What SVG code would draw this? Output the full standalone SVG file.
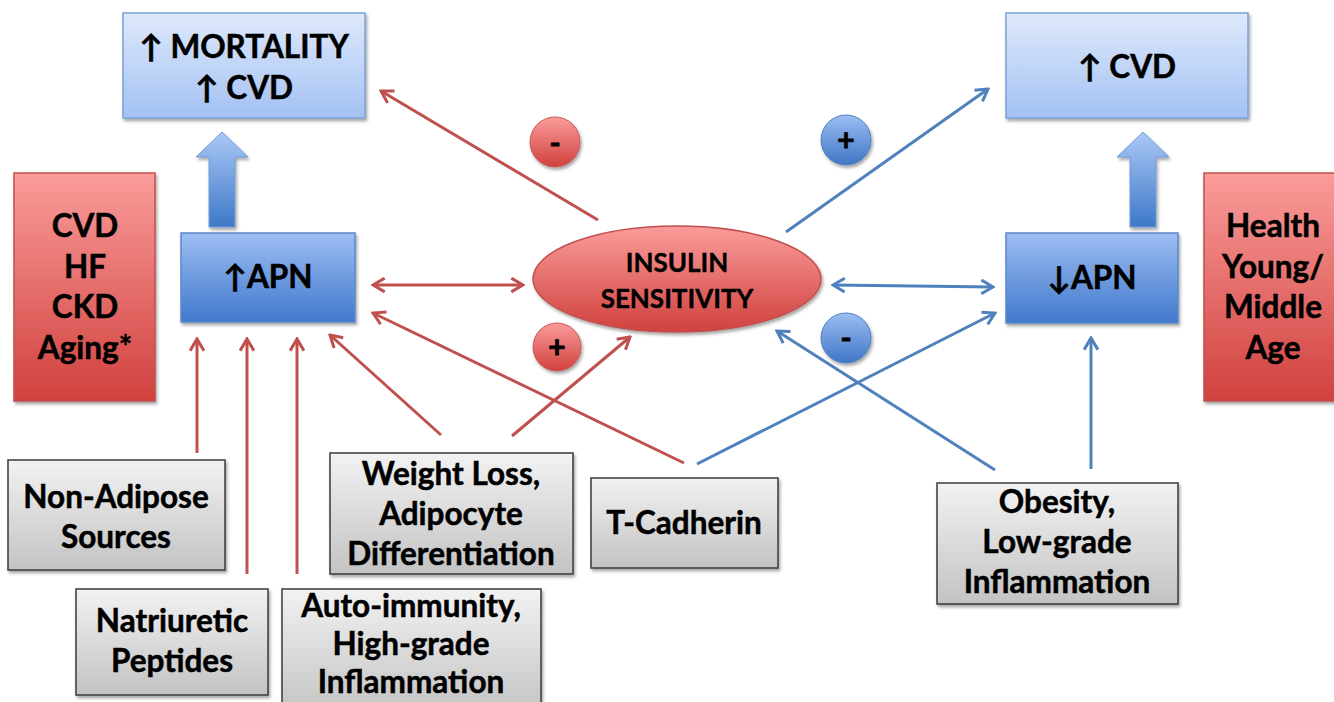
<svg xmlns="http://www.w3.org/2000/svg" width="1334" height="702" viewBox="0 0 1334 702">
<style>
.t{font-family:Lato,"DejaVu Sans",sans-serif;font-weight:bold;font-size:31.5px;fill:#000;stroke:#000;stroke-width:0.5;text-anchor:middle}
.ts{font-size:26px;stroke-width:0.4}
.sym{font-size:30px;stroke-width:0.8}
.rl{fill:none;stroke:#c0504d;stroke-width:3}
.bl{fill:none;stroke:#4f81bd;stroke-width:3}
.gray{fill:url(#gGray);stroke:#3a3a3a;stroke-width:1.5;filter:url(#sh)}
.lb{fill:url(#gLB);stroke:#7aa0d6;stroke-width:1.5;filter:url(#sh)}
.db{fill:url(#gDB);stroke:#5a88c8;stroke-width:1.5;filter:url(#sh)}
.rd{fill:url(#gRed);stroke:#c0504d;stroke-width:1.5;filter:url(#sh)}
.rc{fill:url(#gRed);stroke:#c55a57;stroke-width:1;filter:url(#sh)}
.bc{fill:url(#gBC);stroke:#4f81bd;stroke-width:1;filter:url(#sh)}
.ba{fill:url(#gArr);stroke:#6f9bd8;stroke-width:1;filter:url(#sh)}
</style>
<defs>
<linearGradient id="gLB" x1="0" y1="0" x2="0" y2="1"><stop offset="0" stop-color="#dfe9fb"/><stop offset="1" stop-color="#a3c1f3"/></linearGradient>
<linearGradient id="gDB" x1="0" y1="0" x2="0" y2="1"><stop offset="0" stop-color="#9dbdf3"/><stop offset="1" stop-color="#4079cc"/></linearGradient>
<linearGradient id="gRed" x1="0" y1="0" x2="0" y2="1"><stop offset="0" stop-color="#fa9c9a"/><stop offset="1" stop-color="#d0413e"/></linearGradient>
<linearGradient id="gBC" x1="0" y1="0" x2="0" y2="1"><stop offset="0" stop-color="#9cbdf2"/><stop offset="1" stop-color="#3f76c6"/></linearGradient>
<linearGradient id="gGray" x1="0" y1="0" x2="0" y2="1"><stop offset="0" stop-color="#f2f2f2"/><stop offset="1" stop-color="#c3c3c3"/></linearGradient>
<linearGradient id="gArr" x1="0" y1="0" x2="0" y2="1"><stop offset="0" stop-color="#abc8f6"/><stop offset="1" stop-color="#3d78c8"/></linearGradient>
<filter id="sh" x="-10%" y="-10%" width="130%" height="130%"><feDropShadow dx="1.5" dy="2.5" stdDeviation="1.8" flood-color="#000" flood-opacity="0.35"/></filter>
<marker id="mr" viewBox="0 0 12 12" refX="10.5" refY="6" markerWidth="5.5" markerHeight="5.5" orient="auto-start-reverse" markerUnits="strokeWidth"><path d="M2,1 L10.5,6 L2,11" fill="none" stroke="#c0504d" stroke-width="2.2"/></marker>
<marker id="mb" viewBox="0 0 12 12" refX="10.5" refY="6" markerWidth="5.5" markerHeight="5.5" orient="auto-start-reverse" markerUnits="strokeWidth"><path d="M2,1 L10.5,6 L2,11" fill="none" stroke="#4f81bd" stroke-width="2.2"/></marker>
</defs>
<rect width="1334" height="702" fill="#fff"/>

<g id="connectors">
<path class="rl" d="M598,220 L381,91" marker-end="url(#mr)"/>
<path class="rl" d="M373,285 L523,285" marker-start="url(#mr)" marker-end="url(#mr)"/>
<path class="rl" d="M684,463 L373,313" marker-end="url(#mr)"/>
<path class="rl" d="M441,435 L330,335" marker-end="url(#mr)"/>
<path class="rl" d="M512,436 L630,337" marker-end="url(#mr)"/>
<path class="rl" d="M197,453 L197,339" marker-end="url(#mr)"/>
<path class="rl" d="M247,574 L247,339" marker-end="url(#mr)"/>
<path class="rl" d="M297,574 L297,339" marker-end="url(#mr)"/>
<path class="bl" d="M786,232 L988,89" marker-end="url(#mb)"/>
<path class="bl" d="M833,285 L993,287" marker-start="url(#mb)" marker-end="url(#mb)"/>
<path class="bl" d="M697,464 L995,313" marker-end="url(#mb)"/>
<path class="bl" d="M995,470 L777,331" marker-end="url(#mb)"/>
<path class="bl" d="M1091,469 L1091,338" marker-end="url(#mb)"/>
</g>

<g id="mortality">
<rect class="lb" x="123" y="13" width="242" height="105"/>
<text class="t" x="244" y="58">↑ MORTALITY</text>
<text class="t" x="244" y="99">↑ CVD</text>
</g>
<g id="cvd-right">
<rect class="lb" x="1006" y="13" width="242" height="105"/>
<text class="t" x="1127" y="78">↑  CVD</text>
</g>
<g id="arrow-left">
<path class="ba" d="M222,132 L248,157 L235,157 L235,227 L209,227 L209,157 L196,157 Z"/>
</g>
<g id="arrow-right">
<path class="ba" d="M1143,132 L1169,157 L1156,157 L1156,227 L1130,227 L1130,157 L1117,157 Z"/>
</g>
<g id="apn-up">
<rect class="db" x="181" y="233" width="174" height="89"/>
<text class="t" x="268" y="288">↑APN</text>
</g>
<g id="apn-down">
<rect class="db" x="1006" y="233" width="172" height="90"/>
<text class="t" x="1092" y="289">↓APN</text>
</g>
<g id="red-left">
<rect class="rd" x="14" y="173" width="141" height="228"/>
<text class="t" x="85" y="237">CVD</text>
<text class="t" x="85" y="278">HF</text>
<text class="t" x="85" y="318">CKD</text>
<text class="t" x="85" y="359">Aging*</text>
</g>
<g id="red-right">
<rect class="rd" x="1204" y="173" width="140" height="228"/>
<text class="t" x="1273" y="237">Health</text>
<text class="t" x="1273" y="278">Young/</text>
<text class="t" x="1273" y="318">Middle</text>
<text class="t" x="1273" y="359">Age</text>
</g>
<g id="insulin">
<ellipse class="rd" cx="677" cy="279" rx="144" ry="53"/>
<text class="t ts" x="677" y="272">INSULIN</text>
<text class="t ts" x="677" y="308">SENSITIVITY</text>
</g>
<g id="c-minus-red">
<circle class="rc" cx="555" cy="142" r="25"/>
<text class="t sym" x="555" y="154">-</text>
</g>
<g id="c-plus-blue">
<circle class="bc" cx="846" cy="140" r="25"/>
<text class="t sym" x="846" y="151">+</text>
</g>
<g id="c-plus-red">
<circle class="rc" cx="557" cy="347" r="24"/>
<text class="t sym" x="557" y="358">+</text>
</g>
<g id="c-minus-blue">
<circle class="bc" cx="846" cy="338" r="25"/>
<text class="t sym" x="846" y="349">-</text>
</g>
<g id="non-adipose">
<rect class="gray" x="8" y="460" width="217" height="110"/>
<text class="t" x="116" y="508">Non-Adipose</text>
<text class="t" x="116" y="548">Sources</text>
</g>
<g id="natriuretic">
<rect class="gray" x="76" y="589" width="192" height="106"/>
<text class="t" x="172" y="632">Natriuretic</text>
<text class="t" x="172" y="672">Peptides</text>
</g>
<g id="autoimmunity">
<rect class="gray" x="282" y="589" width="259" height="125"/>
<text class="t" x="411" y="617">Auto-immunity,</text>
<text class="t" x="411" y="655">High-grade</text>
<text class="t" x="411" y="693">Inflammation</text>
</g>
<g id="weight-loss">
<rect class="gray" x="330" y="453" width="243" height="121"/>
<text class="t" x="451" y="485">Weight Loss,</text>
<text class="t" x="451" y="525">Adipocyte</text>
<text class="t" x="451" y="565">Differentiation</text>
</g>
<g id="t-cadherin">
<rect class="gray" x="591" y="478" width="187" height="90"/>
<text class="t" x="684" y="534">T-Cadherin</text>
</g>
<g id="obesity">
<rect class="gray" x="937" y="483" width="241" height="121"/>
<text class="t" x="1057" y="513">Obesity,</text>
<text class="t" x="1057" y="553">Low-grade</text>
<text class="t" x="1057" y="593">Inflammation</text>
</g>
</svg>
